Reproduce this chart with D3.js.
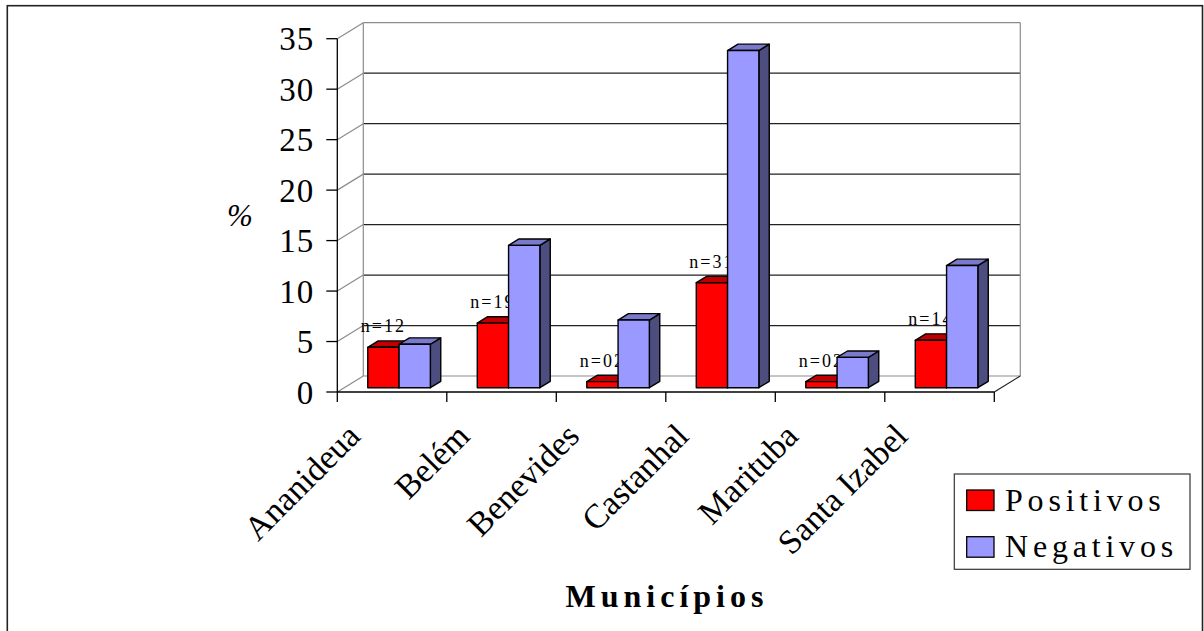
<!DOCTYPE html>
<html>
<head>
<meta charset="utf-8">
<script src="https://cdn.jsdelivr.net/npm/d3@7"></script>
<style>
  html, body { margin: 0; padding: 0; background: #fff; }
  svg { display: block; }
  text { font-family: "Liberation Serif", "DejaVu Serif", serif; fill: #000; }
</style>
</head>
<body>
<svg id="chart" width="1204" height="631"></svg>
<script>
// Percentages of positive and negative samples per municipality
const categories = ["Ananideua", "Belém", "Benevides", "Castanhal", "Marituba", "Santa Izabel"];
const positivos = [4.0, 6.4, 0.6, 10.4, 0.6, 4.7];
const negativos = [4.3, 14.1, 6.7, 33.4, 3.0, 12.1];
const sampleLabels = ["n=12", "n=19", "n=02", "n=31", "n=02", "n=14"];
const seriesNames = ["Positivos", "Negativos"];
const yTicks = [0, 5, 10, 15, 20, 25, 30, 35];

const svg = d3.select("#chart");

// pseudo-3D frame: front plane plus a depth offset toward the back wall
const depthX = 26, depthY = -16;
const barFront = 0.27, barDepth = 0.40;

const x0 = d3.scaleBand().domain(categories).range([337.3, 994.3]).paddingInner(0).paddingOuter(0);
const x1 = d3.scaleBand().domain(seriesNames).range([0, x0.bandwidth()]).paddingInner(0).paddingOuter(0.75);
const y = d3.scaleLinear().domain([0, 35]).range([392, 38.7]);

const colors = {
  Positivos: { front: "#ff0000", top: "#c00000", side: "#800000" },
  Negativos: { front: "#9999ff", top: "#7a7acc", side: "#4d4d80" }
};

// outer frame
svg.append("rect")
  .attr("x", 7.3).attr("y", 5.7).attr("width", 1195.2).attr("height", 640)
  .attr("fill", "#fff").attr("stroke", "#222").attr("stroke-width", 1.6);

const [xL, xR] = x0.range();
const gWalls = svg.append("g");

// back wall gridlines
yTicks.forEach(t => {
  const yy = y(t) + depthY;
  gWalls.append("line")
    .attr("x1", xL + depthX).attr("x2", xR + depthX)
    .attr("y1", yy).attr("y2", yy)
    .attr("stroke", (t === 0 || t === 35) ? "#8c8c8c" : "#222")
    .attr("stroke-width", 1.2);
  // side wall diagonals
  gWalls.append("line")
    .attr("x1", xL).attr("y1", y(t))
    .attr("x2", xL + depthX).attr("y2", yy)
    .attr("stroke", "#8c8c8c").attr("stroke-width", 1.2);
});

// back wall verticals
[xL + depthX, xR + depthX].forEach(xx => {
  gWalls.append("line")
    .attr("x1", xx).attr("x2", xx)
    .attr("y1", y(35) + depthY).attr("y2", y(0) + depthY)
    .attr("stroke", "#8c8c8c").attr("stroke-width", 1.2);
});

// floor right edge
gWalls.append("line")
  .attr("x1", xR).attr("y1", y(0))
  .attr("x2", xR + depthX).attr("y2", y(0) + depthY)
  .attr("stroke", "#222").attr("stroke-width", 1.2);

// value axis
const yAxis = svg.append("g");
yAxis.append("line")
  .attr("x1", xL).attr("x2", xL).attr("y1", y(35)).attr("y2", y(0))
  .attr("stroke", "#000").attr("stroke-width", 1.3);
yTicks.forEach(t => {
  yAxis.append("line")
    .attr("x1", xL - 11).attr("x2", xL).attr("y1", y(t)).attr("y2", y(t))
    .attr("stroke", "#000").attr("stroke-width", 1.3);
  yAxis.append("text")
    .attr("x", xL - 23).attr("y", y(t)).attr("dy", "0.35em")
    .attr("text-anchor", "end")
    .style("font-size", "33px").style("letter-spacing", "1px")
    .text(t);
});

// category axis
const xAxis = svg.append("g");
xAxis.append("line")
  .attr("x1", xL).attr("x2", xR).attr("y1", y(0)).attr("y2", y(0))
  .attr("stroke", "#000").attr("stroke-width", 1.3);
const boundaries = categories.map(c => x0(c)).concat([xR]);
boundaries.forEach(bx => {
  xAxis.append("line")
    .attr("x1", bx).attr("x2", bx).attr("y1", y(0)).attr("y2", y(0) + 10)
    .attr("stroke", "#000").attr("stroke-width", 1.3);
});
categories.forEach(c => {
  const cx = x0(c) + x0.bandwidth() / 2 - 30;
  const cy = 438;
  xAxis.append("text")
    .attr("transform", `translate(${cx},${cy}) rotate(-45)`)
    .attr("text-anchor", "end")
    .style("font-size", "34px")
    .text(c);
});

// draws one box-shaped column: front face, top and right side
function drawBar(g, series, cat, value) {
  const c = colors[series];
  const fx = x0(cat) + x1(series) + barFront * depthX;
  const w = x1.bandwidth();
  const base = y(0) + barFront * depthY;
  const top = y(value) + barFront * depthY;
  const dx = barDepth * depthX, dy = barDepth * depthY;
  const bar = g.append("g").attr("stroke", "#000").attr("stroke-width", 1.4).attr("stroke-linejoin", "round");
  bar.append("path")
    .attr("d", `M${fx + w},${base}L${fx + w + dx},${base + dy}L${fx + w + dx},${top + dy}L${fx + w},${top}Z`)
    .attr("fill", c.side);
  bar.append("path")
    .attr("d", `M${fx},${top}L${fx + dx},${top + dy}L${fx + w + dx},${top + dy}L${fx + w},${top}Z`)
    .attr("fill", c.top);
  bar.append("rect")
    .attr("x", fx).attr("y", top).attr("width", w).attr("height", base - top)
    .attr("fill", c.front);
}

const gRed = svg.append("g");
categories.forEach((c, i) => drawBar(gRed, "Positivos", c, positivos[i]));

// sample size labels above the positive columns
const gLabels = svg.append("g");
categories.forEach((c, i) => {
  const fx = x0(c) + x1("Positivos") + barFront * depthX;
  gLabels.append("text")
    .attr("x", fx + x1.bandwidth() / 2)
    .attr("y", y(positivos[i]) + barFront * depthY - 15)
    .attr("text-anchor", "middle")
    .style("font-size", "18px").style("letter-spacing", "2px")
    .text(sampleLabels[i]);
});

const gBlue = svg.append("g");
categories.forEach((c, i) => drawBar(gBlue, "Negativos", c, negativos[i]));

// axis titles
svg.append("text")
  .attr("x", 240).attr("y", 215).attr("dy", "0.34em")
  .attr("text-anchor", "middle")
  .style("font-size", "31px").style("font-style", "italic")
  .text("%");

svg.append("text")
  .attr("x", 667).attr("y", 607)
  .attr("text-anchor", "middle")
  .style("font-size", "32px").style("font-weight", "bold").style("letter-spacing", "5px")
  .text("Municípios");

// legend
const legend = svg.append("g");
legend.append("rect")
  .attr("x", 954.3).attr("y", 474).attr("width", 235.7).attr("height", 95.3)
  .attr("fill", "#fff").attr("stroke", "#333").attr("stroke-width", 1.2);
seriesNames.forEach((s, i) => {
  const ly = 490 + i * 46.7;
  legend.append("rect")
    .attr("x", 966.7).attr("y", ly).attr("width", 27.3).attr("height", 20.5)
    .attr("fill", colors[s].front).attr("stroke", "#000").attr("stroke-width", 1.3);
  legend.append("text")
    .attr("x", 1005).attr("y", ly + 20.5)
    .style("font-size", "32px").style("letter-spacing", "4.8px")
    .text(s);
});
</script>
</body>
</html>
